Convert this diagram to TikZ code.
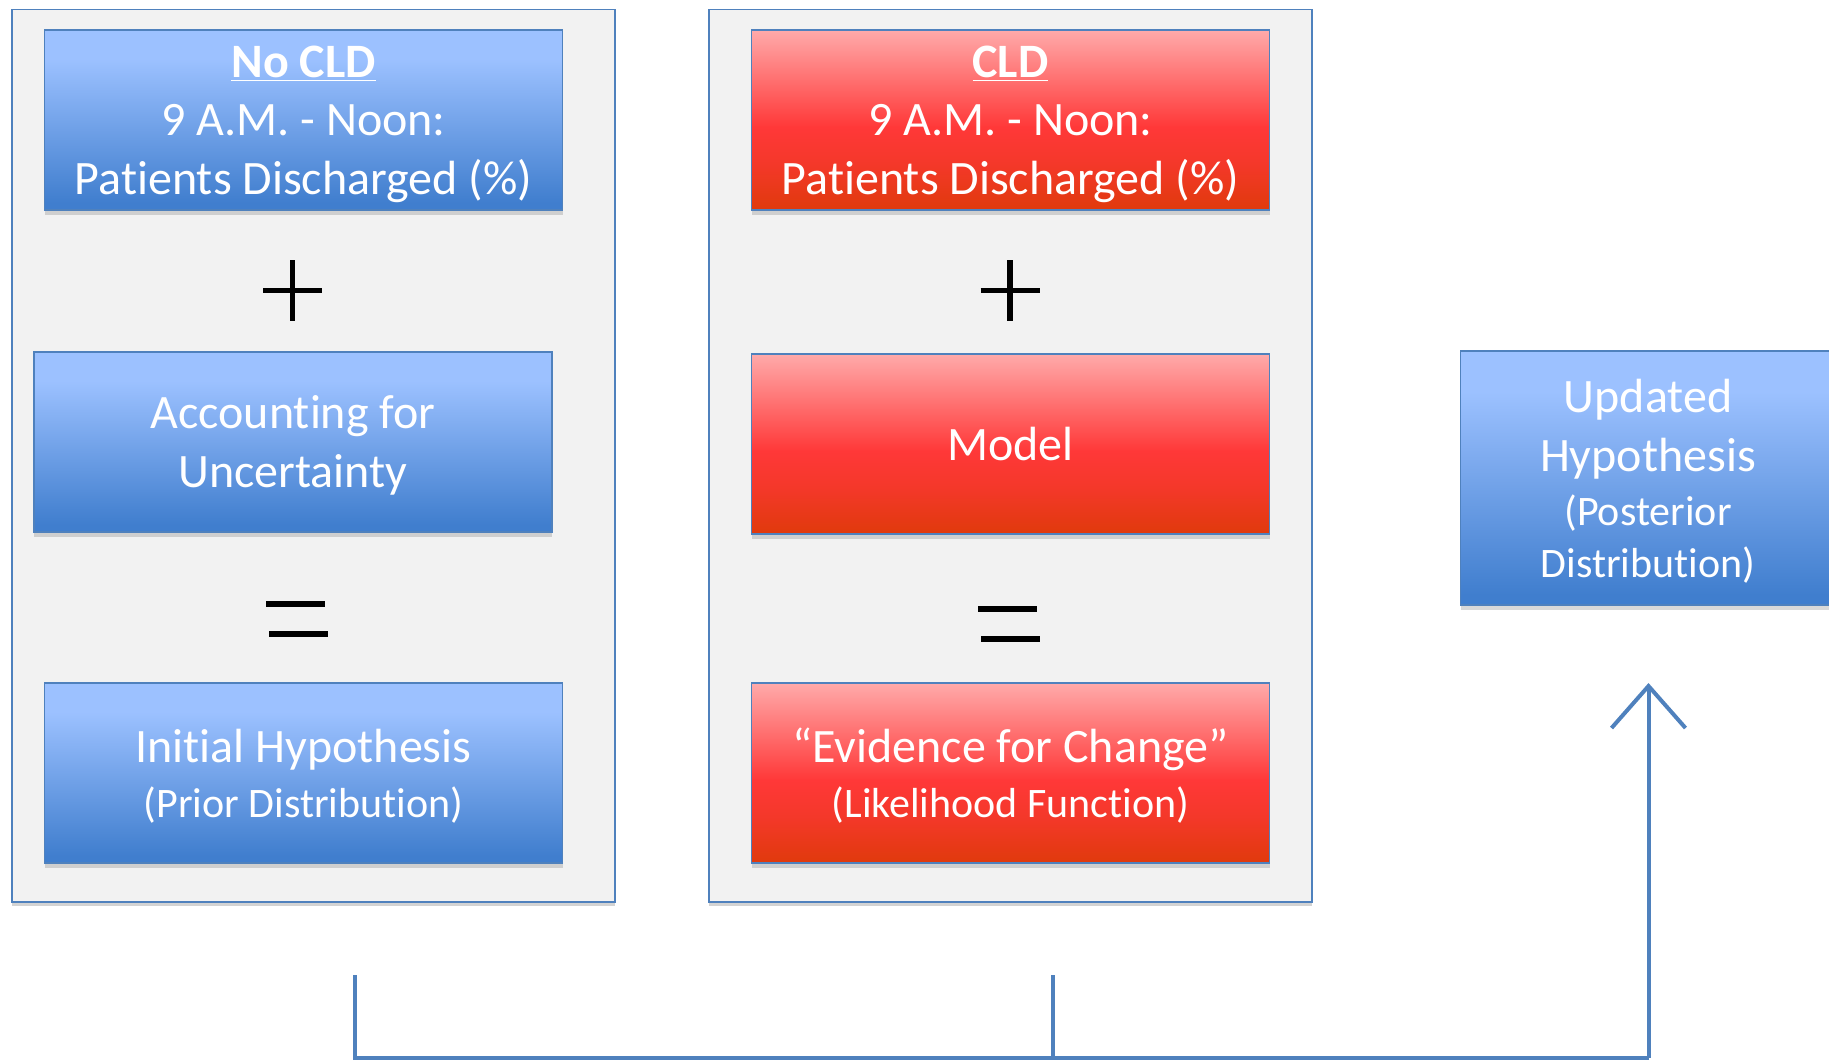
\documentclass[tikz,border=0pt]{standalone}
\usepackage{fontspec}
\setmainfont{Carlito}[Ligatures=NoCommon]
\usepackage{tikz}
\usetikzlibrary{arrows.meta,shadows}

\definecolor{panelfill}{RGB}{242,242,242}
\definecolor{edgeblue}{RGB}{79,129,189}
\definecolor{bluetop}{RGB}{156,193,255}
\definecolor{bluebot}{RGB}{64,126,206}
\definecolor{redtop}{RGB}{255,170,170}
\definecolor{redmid}{RGB}{255,56,56}
\definecolor{redlow}{RGB}{244,56,42}
\definecolor{redbot}{RGB}{224,58,12}

\pgfdeclareverticalshading{bluefill}{100bp}{color(0bp)=(bluebot); color(27bp)=(bluebot); color(67bp)=(bluetop); color(100bp)=(bluetop)}
\pgfdeclareverticalshading{redfill}{100bp}{color(0bp)=(redbot); color(25bp)=(redbot); color(38bp)=(redlow); color(48bp)=(redmid); color(75bp)=(redtop); color(100bp)=(redtop)}

\newcommand{\bigtxt}{\fontsize{24}{29.3}\selectfont}
\newcommand{\smalltxt}{\fontsize{21}{25.6}\selectfont}
\newcommand{\topline}{\rule{0pt}{20pt}}

\begin{document}
\begin{tikzpicture}[x=0.5pt, y=-0.5pt,
  panel/.style={draw=edgeblue, line width=0.8pt, fill=panelfill,
    drop shadow={opacity=0.35, shadow xshift=0pt, shadow yshift=-2pt}},
  box/.style={draw=edgeblue, line width=0.6pt, inner sep=0pt, text=white,
    align=center, font=\bigtxt, minimum width=259pt, minimum height=90pt,
    drop shadow={opacity=0.3, shadow xshift=0pt, shadow yshift=-2.5pt}},
  bluebox/.style={box, shading=bluefill},
  redbox/.style={box, shading=redfill},
  sign/.style={line width=2.6pt},
  link/.style={draw=edgeblue, line width=2pt}
]
\useasboundingbox (0,0) rectangle (1829,1060);

\draw[panel] (11.7,9.3) rectangle (614.7,901.7);
\draw[panel] (709,9.3) rectangle (1312,901.7);

\node[bluebox] (nocld) at (303.5,120) {\topline\underline{\textbf{No CLD}}\\9 A.M. - Noon:\\Patients Discharged (\%)};
\node[bluebox] (uncert) at (293,442) {\topline Accounting for\\Uncertainty};
\node[bluebox] (prior) at (303.5,773) {\topline Initial Hypothesis\\[-2pt]\smalltxt (Prior Distribution)};

\node[redbox] (cld) at (1010.5,120) {\topline\underline{\textbf{CLD}}\\9 A.M. - Noon:\\Patients Discharged (\%)};
\node[redbox] (model) at (1010.5,444) {Model};
\node[redbox] (evidence) at (1010.5,773) {\topline “Evidence for Change”\\[-2pt]\smalltxt (Likelihood Function)};

\node[bluebox, minimum width=187.5pt, minimum height=127pt] (posterior) at (1648,478)
  {\topline Updated\\Hypothesis\\[-2pt]\smalltxt (Posterior\\[-3.6pt]\smalltxt Distribution)};

\draw[sign] (292.7,260) -- (292.7,321) (263.3,290.8) -- (322.3,290.8);
\draw[sign] (1010,260) -- (1010,321) (980.5,290.8) -- (1039.5,290.8);
\draw[sign] (266,604) -- (324.7,604) (269,634) -- (327.7,634);
\draw[sign] (978,609) -- (1037,609) (981,639) -- (1040,639);

\coordinate (fromprior) at (354.6,975);
\coordinate (fromevid) at (1053,975);
\coordinate (base) at (1648.5,1058);
\coordinate (tip) at (1648.5,683);

\draw[link] (fromprior) |- (base);
\draw[link] (fromevid) -- (fromevid |- base);
\draw[link, -{Straight Barb[length=21pt, width=37pt]}] (base) -- (tip);
\end{tikzpicture}
\end{document}
